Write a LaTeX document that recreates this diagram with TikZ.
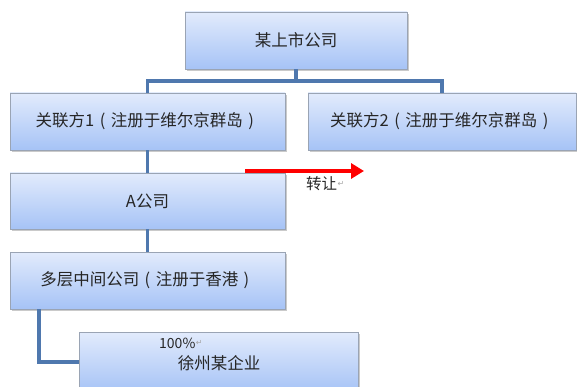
\documentclass[tikz,border=0pt]{standalone}
\usepackage{fontspec}
\setmainfont{Noto Sans CJK SC}
\newfontfamily\symfont{DejaVu Sans}
\usetikzlibrary{arrows.meta,shadows}
\definecolor{boxtop}{HTML}{E2EBFC}
\definecolor{boxbot}{HTML}{A6C3F6}
\definecolor{boxline}{HTML}{9AA4B4}
\definecolor{connc}{HTML}{4F78AE}
\newcommand{\lpar}{\makebox[1em][c]{(}}
\newcommand{\rpar}{\makebox[1em][c]{)}}
\tikzset{
  orgbox/.style={draw=boxline, line width=0.8pt, top color=boxtop, bottom color=boxbot,
    inner sep=0pt, font=\fontsize{16.5}{19}\selectfont, text=black!85,
    drop shadow={shadow xshift=1.5pt, shadow yshift=-1.8pt, opacity=0.35, fill=black!60}},
  conn/.style={draw=connc, line width=3.4pt},
  lbl/.style={inner sep=0pt, text=black!85},
  pmark/.style={inner sep=0pt, text=black!35, font=\symfont\fontsize{8}{9}\selectfont}
}
\begin{document}
\begin{tikzpicture}[x=1pt,y=-1pt]
\useasboundingbox (0,0) rectangle (577,387);
\clip (0,0) rectangle (577,387);
\node[orgbox, minimum width=222pt, minimum height=57pt] (top) at (296,40.5) {某上市公司};
\node[orgbox, minimum width=275pt, minimum height=57pt] (r1) at (147.5,121.5) {关联方1\lpar 注册于维尔京群岛\rpar};
\node[orgbox, minimum width=268pt, minimum height=57pt] (r2) at (442,121.5) {关联方2\lpar 注册于维尔京群岛\rpar};
\node[orgbox, minimum width=275pt, minimum height=56pt] (a) at (147.5,201) {A公司};
\node[orgbox, minimum width=275pt, minimum height=57pt] (m) at (147.5,280.5) {多层中间公司\lpar 注册于香港\rpar};
\node[orgbox, minimum width=279pt, minimum height=60pt] (xz) at (218.5,362) {};
\node[lbl, font=\fontsize{14}{16}\selectfont, anchor=west] (pct) at (159,343) {100\%};
\node[pmark, anchor=west] (pm1) at (pct.east) {↵};
\node[lbl, font=\fontsize{16.5}{19}\selectfont] (xzt) at (219,363) {徐州某企业};
% connectors
\coordinate (bus) at (296,81);
\draw[conn] (top.south) -- (bus);
\draw[conn] (r1.north) |- (bus) -| (r2.north);
\draw[conn] (r1.south) -- (a.north);
\draw[conn] (a.south) -- (m.north);
\coordinate (elb) at (39,309);
\draw[conn] (elb) |- (xz.west);
% transfer arrow
\coordinate (ts) at (245,171);
\coordinate (te) at (364,171);
\draw[red, line width=4.5pt, -{Triangle[length=13pt,width=15pt]}] (ts) -- (te);
\node[lbl, font=\fontsize{15.5}{17}\selectfont, anchor=west] (zr) at (306,184) {转让};
\node[pmark, anchor=west] (pm2) at (zr.east) {↵};
\end{tikzpicture}
\end{document}
